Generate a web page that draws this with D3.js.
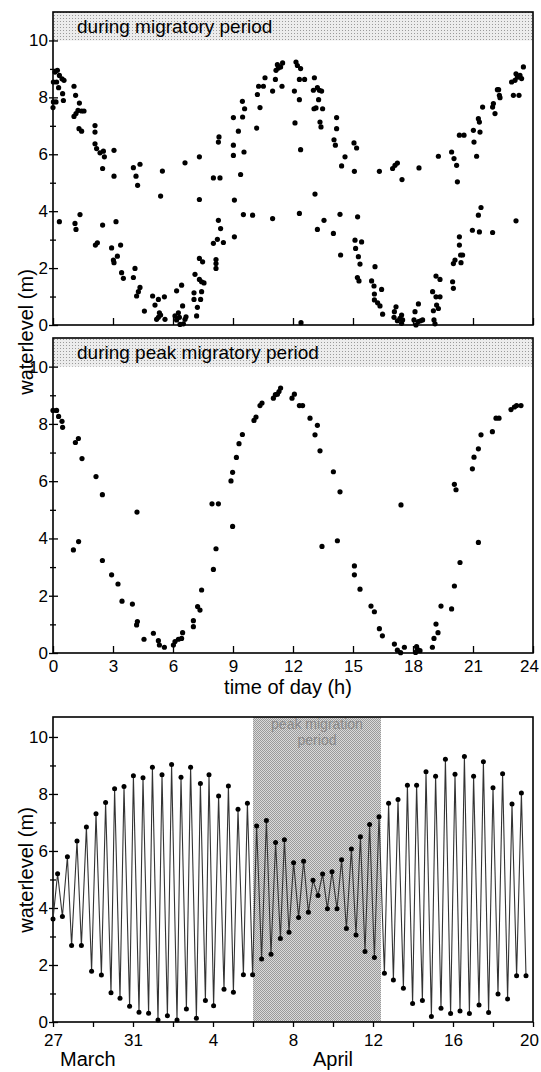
<!DOCTYPE html>
<html>
<head>
<meta charset="utf-8">
<script src="https://cdn.jsdelivr.net/npm/d3@7"></script>
<style>
  body { margin: 0; background: #fff; }
  svg { display: block; font-family: "Liberation Sans", Arial, Helvetica, sans-serif; }
</style>
</head>
<body>
<div id="chart"></div>
<script>
// ---- data ----

// panel 1: water level at the time of each observation, whole migratory period
// [hour of day, water level (m)]
const migratoryPeriod = [
  // high-water side
  [0.00,7.64],[0.02,7.84],[0.02,8.54],[0.10,8.89],[0.22,8.95],[0.18,8.54],[0.15,7.84],[0.32,8.77],[0.28,8.34],
  [0.45,8.65],[0.48,8.13],[0.52,7.89],[0.55,8.60],[1.05,8.39],[1.13,8.07],[1.05,7.33],[1.15,7.43],[1.25,7.54],
  [1.32,7.80],[1.43,7.52],[1.55,7.52],[1.30,6.90],[1.43,6.81],[2.10,7.01],[2.10,6.78],[2.10,6.37],[2.18,6.20],
  [2.35,6.05],[2.52,6.11],[2.57,5.91],[2.48,5.50],[3.05,6.14],[3.05,5.23],[4.02,5.53],[4.15,5.23],[4.23,4.91],
  [4.35,5.65],[5.38,4.53],[5.47,5.41],[6.60,5.70],[7.32,5.91],[7.32,4.41],[8.02,5.17],[8.35,5.17],[8.27,6.43],
  [8.30,6.61],[9.02,7.29],[9.02,6.32],[9.02,5.96],[9.07,4.39],[9.27,6.81],[9.38,5.29],[9.47,7.86],[9.48,7.31],
  [9.58,7.60],[9.55,6.08],[10.18,6.92],[10.22,8.10],[10.35,7.64],[10.28,8.39],[10.52,8.39],[10.60,8.69],
  [10.98,8.22],[11.12,8.63],[11.15,8.95],[11.22,9.15],[11.27,9.03],[11.38,9.07],[11.48,9.21],[11.45,8.39],
  [12.10,7.10],[12.15,9.24],[12.22,9.12],[12.38,9.01],[12.32,8.63],[12.58,8.63],[12.07,8.22],[12.32,7.92],
  [12.38,6.16],[13.07,8.69],[13.02,8.25],[13.22,8.34],[13.32,8.25],[13.43,8.22],[13.28,7.92],[13.05,7.60],
  [13.15,7.63],[13.48,7.60],[13.35,7.13],[13.40,6.96],[13.10,4.60],[14.18,7.29],[14.18,6.90],[14.05,6.51],
  [14.12,6.32],[14.60,5.91],[14.43,5.59],[15.05,6.40],[15.18,6.22],[15.07,5.40],[16.32,5.40],[16.98,5.50],
  [17.10,5.61],[17.22,5.69],[17.45,5.11],[18.30,5.52],[19.27,5.93],[19.93,6.08],[20.05,5.85],[20.18,5.61],
  [20.22,5.03],[20.32,6.67],[20.55,6.67],[21.02,6.84],[21.05,6.43],[21.18,5.93],[21.35,6.78],[21.27,7.25],
  [21.32,7.13],[21.48,7.66],[21.98,7.66],[22.02,7.78],[22.10,7.43],[22.22,8.27],[22.32,8.07],[22.35,7.99],
  [22.28,8.27],[23.02,8.07],[23.30,8.07],[22.93,8.54],[23.10,8.60],[23.15,8.83],[23.22,8.71],[23.35,8.77],
  [23.43,8.66],[23.52,9.07],
  // low-water side
  [0.32,3.63],[1.10,3.57],[1.15,3.36],[1.35,3.88],[2.12,2.81],[2.22,2.89],[2.48,3.51],[2.93,2.71],[3.15,3.63],
  [3.02,2.28],[3.05,2.19],[3.22,2.42],[3.38,2.81],[3.43,1.84],[3.52,1.64],[4.02,1.67],[4.10,1.99],[4.18,1.02],
  [4.27,1.17],[4.35,1.32],[4.57,0.49],[4.98,1.02],[5.10,0.70],[5.27,0.90],[5.32,0.43],[5.27,0.27],[5.38,0.35],
  [5.18,0.20],[5.57,0.99],[5.60,0.20],[6.10,0.32],[6.18,1.20],[6.18,0.18],[6.27,0.43],[6.32,0.27],[6.35,0.02],
  [6.43,1.40],[6.48,0.67],[6.60,0.20],[6.65,0.29],[6.52,0.04],[7.05,1.13],[7.05,0.90],[7.18,0.32],[7.22,0.62],
  [7.38,0.90],[7.43,1.17],[7.10,1.78],[7.32,1.60],[7.43,1.52],[7.55,1.48],[7.32,2.34],[7.48,2.22],[8.02,2.87],
  [8.15,2.30],[8.15,2.16],[8.15,1.99],[8.27,3.68],[8.22,3.01],[8.38,3.39],[8.52,2.90],[9.07,3.10],[9.52,3.88],
  [9.98,3.86],[10.98,3.74],[12.32,3.92],[12.40,0.08],[13.22,3.36],[13.55,3.68],[14.02,3.22],[14.35,3.89],
  [14.38,2.46],[15.23,3.80],[15.10,2.98],[15.13,2.69],[15.43,2.92],[15.27,2.40],[15.35,2.14],[15.22,1.67],
  [15.30,1.55],[16.10,2.05],[15.93,1.55],[16.05,1.37],[16.07,1.09],[16.07,0.88],[16.23,0.78],[16.35,0.67],
  [16.43,1.25],[16.48,0.38],[17.07,0.47],[17.15,0.64],[17.05,0.27],[17.22,0.15],[17.35,0.23],[17.43,0.35],
  [17.43,0.06],[17.48,0.18],[18.05,0.18],[18.10,0.47],[18.15,0.00],[18.27,0.74],[18.27,0.12],[18.38,0.15],
  [18.48,0.18],[18.98,1.17],[19.02,0.50],[19.05,0.18],[19.10,0.04],[19.18,0.70],[19.27,0.58],[19.15,0.99],
  [19.35,0.99],[19.15,1.72],[19.35,1.60],[19.98,1.52],[20.02,1.29],[20.02,2.16],[20.10,2.28],[20.32,2.81],
  [20.32,3.10],[20.38,2.46],[20.48,2.46],[20.40,2.19],[20.97,3.33],[21.27,3.86],[21.32,3.27],[21.40,4.13],
  [21.98,3.25],[23.15,3.66]
];

// panel 2: same, peak migratory period only
const peakPeriod = [
  [0.00,8.47],[0.18,8.47],[0.28,8.26],[0.45,8.09],[0.48,7.88],[1.02,3.60],[1.12,7.35],[1.27,7.49],[1.28,3.89],
  [1.45,6.79],[2.15,6.16],[2.47,5.53],[2.47,3.23],[2.93,2.73],[3.25,2.41],[3.45,1.81],[3.97,1.71],[4.18,0.98],
  [4.22,1.10],[4.20,4.92],[4.55,0.48],[5.02,0.69],[5.27,0.43],[5.32,0.28],[5.57,0.20],[6.02,0.28],[6.10,0.40],
  [6.27,0.48],[6.43,0.51],[6.48,0.71],[7.02,1.13],[7.02,0.92],[7.23,1.62],[7.35,1.50],[7.43,2.20],[7.95,5.21],
  [8.02,2.92],[8.15,3.64],[8.27,5.21],[8.90,6.01],[8.98,6.31],[8.98,4.42],[9.17,6.83],[9.30,7.31],[9.47,7.63],
  [10.05,8.12],[10.15,8.24],[10.35,8.64],[10.45,8.73],[11.02,8.90],[11.12,9.02],[11.22,9.04],[11.30,9.13],
  [11.38,9.25],[11.95,8.90],[12.07,9.04],[12.32,8.64],[12.48,8.64],[12.85,8.20],[13.10,7.62],[13.22,7.95],
  [13.35,7.06],[13.45,3.72],[14.02,6.33],[14.22,3.92],[14.35,5.63],[15.07,3.04],[15.07,2.73],[15.35,2.23],
  [15.90,1.64],[16.07,1.44],[16.32,0.85],[16.47,0.60],[17.07,0.31],[17.22,0.10],[17.38,0.01],[17.40,5.17],
  [17.57,0.20],[18.13,0.02],[18.18,0.22],[18.22,0.13],[18.35,0.08],[18.97,0.20],[19.05,0.51],[19.15,1.01],
  [19.25,0.71],[19.40,1.64],[19.93,1.54],[20.07,2.34],[20.07,5.89],[20.15,5.70],[20.35,3.16],[20.97,6.43],
  [21.05,6.84],[21.27,7.13],[21.27,3.86],[21.40,7.62],[21.97,7.73],[22.15,8.20],[22.30,8.20],[22.90,8.50],
  [23.07,8.59],[23.18,8.64],[23.40,8.64]
];

// panel 3: successive high and low waters, days after 27 March 00:00
const tideDays = [
  0.00,0.23,0.47,0.72,0.93,1.20,1.42,1.67,1.93,2.15,2.42,2.63,2.90,3.08,3.35,3.55,3.83,4.02,4.30,4.50,
  4.78,4.97,5.25,5.45,5.72,5.93,6.20,6.40,6.67,6.88,7.17,7.37,7.62,7.80,8.03,8.28,8.55,8.77,9.02,9.25,
  9.52,9.72,9.98,10.18,10.43,10.67,10.90,11.13,11.37,11.57,11.80,12.03,12.28,12.53,12.77,13.00,13.25,
  13.48,13.72,13.95,14.20,14.43,14.67,14.92,15.15,15.37,15.60,15.83,16.07,16.30,16.57,16.78,17.02,17.25,
  17.52,17.72,17.98,18.18,18.47,18.65,18.92,19.13,19.40,19.62,19.88,20.10,20.35,20.57,20.82,21.03,21.30,
  21.52,21.78,22.00,22.25,22.48,22.73,22.95,23.18,23.42,23.65
];
const tideLevels = [
  3.61,5.20,3.70,5.80,2.68,6.35,2.68,6.84,1.78,7.31,1.65,7.70,1.03,8.18,0.83,8.26,0.55,8.64,0.34,8.57,
  0.31,8.94,0.07,8.67,0.22,9.03,0.07,8.59,0.46,8.94,0.13,8.37,0.75,8.67,0.57,7.93,1.15,8.28,1.04,7.46,
  1.66,7.67,1.66,6.88,2.21,7.07,2.38,6.30,2.93,6.39,3.15,5.59,3.67,5.64,3.85,4.97,4.44,
  5.19,3.97,5.27,3.97,5.69,3.28,6.07,3.05,6.50,2.47,6.93,2.26,7.20,1.71,7.67,1.47,7.81,
  1.18,8.31,0.65,8.31,0.75,8.78,0.19,8.62,0.48,9.22,0.30,8.69,0.39,9.31,0.30,8.62,0.60,
  9.13,0.33,8.22,0.98,8.71,0.81,7.65,1.62,8.03,1.62
];
const peakMigration = [10.0, 16.4]; // shaded span, days after 27 March

const yMajor = [0, 2, 4, 6, 8, 10];
const yMinor = [1, 3, 5, 7, 9];
const hourTicks = [0, 3, 6, 9, 12, 15, 18, 21, 24];

// ---- layout ----
var width = 541, height = 1072;
var left = 53, right = 533;
var FONT = '"Liberation Sans", Arial, Helvetica, sans-serif';

var svg = d3.select("#chart").append("svg")
  .attr("width", width)
  .attr("height", height);

// dithered greys like the printed screen tones
var defs = svg.append("defs");
var light = defs.append("pattern").attr("id", "lightTone")
  .attr("width", 3).attr("height", 3).attr("patternUnits", "userSpaceOnUse");
light.append("rect").attr("width", 3).attr("height", 3).attr("fill", "#ececec");
light.append("rect").attr("width", 1).attr("height", 1).attr("fill", "#9a9a9a");
var dark = defs.append("pattern").attr("id", "darkTone")
  .attr("width", 2).attr("height", 2).attr("patternUnits", "userSpaceOnUse");
dark.append("rect").attr("width", 2).attr("height", 2).attr("fill", "#dadada");
dark.append("rect").attr("width", 1).attr("height", 1).attr("fill", "#9a9a9a");
dark.append("rect").attr("x", 1).attr("y", 1).attr("width", 1).attr("height", 1).attr("fill", "#9a9a9a");

function styleAxis(g) {
  g.select(".domain").remove();
  g.selectAll("line").attr("stroke", "#000").attr("stroke-width", 1.3);
  g.selectAll("text").attr("fill", "#000").style("font-family", FONT).style("font-size", "17px");
}

// keep the right-most tick label inside the page
function pullLastLabel(g) {
  g.selectAll(".tick:last-of-type text").attr("dx", -4);
}

// y axis with ticks crossing the frame, minor ticks at odd metres
function drawYAxis(y) {
  svg.append("g").attr("transform", `translate(${left},0)`)
    .call(d3.axisLeft(y).tickValues(yMajor).tickSize(4).tickPadding(1))
    .call(styleAxis);
  svg.append("g").attr("transform", `translate(${left},0)`)
    .call(d3.axisLeft(y).tickValues(yMajor).tickSize(-5).tickFormat(""))
    .call(styleAxis);
  svg.append("g").attr("transform", `translate(${left},0)`)
    .call(d3.axisLeft(y).tickValues(yMinor).tickSize(3).tickFormat(""))
    .call(styleAxis);
  svg.append("g").attr("transform", `translate(${left},0)`)
    .call(d3.axisLeft(y).tickValues(yMinor).tickSize(-3).tickFormat(""))
    .call(styleAxis);
}

function frame(top, bottom) {
  svg.append("rect")
    .attr("x", left).attr("y", top)
    .attr("width", right - left).attr("height", bottom - top)
    .attr("fill", "none").attr("stroke", "#000").attr("stroke-width", 1.6);
}

// ---- panels 1 and 2: time of day scatter ----
var xHour = d3.scaleLinear().domain([0, 24]).range([left, right]);

function scatterPanel(top, bottom, data, title, showLabels) {
  var y = d3.scaleLinear().domain([0, 11]).range([bottom, top]);

  // title band above 10 m
  svg.append("rect")
    .attr("x", left).attr("y", y(11))
    .attr("width", right - left).attr("height", y(10) - y(11))
    .attr("fill", "url(#lightTone)");
  svg.append("text")
    .attr("x", xHour(1.2)).attr("y", top + 21)
    .style("font-size", "19px")
    .text(title);

  svg.append("g").attr("transform", `translate(0,${bottom})`)
    .call(d3.axisBottom(xHour).tickValues(hourTicks).tickSize(-7).tickPadding(7)
      .tickFormat(showLabels ? d3.format("d") : ""))
    .call(styleAxis)
    .call(pullLastLabel);

  drawYAxis(y);
  frame(top, bottom);

  svg.append("g").selectAll("circle")
    .data(data)
    .enter()
    .append("circle")
    .attr("cx", function (d) { return xHour(d[0]); })
    .attr("cy", function (d) { return y(d[1]); })
    .attr("r", 2.6)
    .attr("fill", "#000");
}

scatterPanel(12, 325, migratoryPeriod, "during migratory period", false);
scatterPanel(338, 653, peakPeriod, "during peak migratory period", true);

svg.append("text")
  .attr("x", 288).attr("y", 694)
  .attr("text-anchor", "middle")
  .style("font-size", "20px")
  .text("time of day (h)");

svg.append("text")
  .attr("transform", "translate(33,332) rotate(-90)")
  .attr("text-anchor", "middle")
  .style("font-size", "20px")
  .text("waterlevel (m)");

// ---- panel 3: tide series ----
var top3 = 717, bottom3 = 1022;
var start = new Date(Date.UTC(1990, 2, 27));
var end = d3.utcDay.offset(start, 24);
var dayToDate = function (d) { return new Date(start.getTime() + d * 864e5); };

var xDate = d3.scaleUtc().domain([start, end]).range([left, right]);
var yTide = d3.scaleLinear().domain([0, 10.7]).range([bottom3, top3]);

var tides = tideDays.map(function (d, i) { return { date: dayToDate(d), level: tideLevels[i] }; });

// peak migration period
var peakX0 = xDate(dayToDate(peakMigration[0]));
var peakX1 = xDate(dayToDate(peakMigration[1]));
svg.append("rect")
  .attr("x", peakX0)
  .attr("y", top3)
  .attr("width", peakX1 - peakX0)
  .attr("height", bottom3 - top3)
  .attr("fill", "url(#darkTone)");

var midPeak = (peakX0 + peakX1) / 2;
svg.append("text")
  .attr("x", midPeak).attr("y", 729)
  .attr("text-anchor", "middle")
  .attr("fill", "#8a8a8a")
  .style("font-size", "14px")
  .text("peak migration");
svg.append("text")
  .attr("x", midPeak).attr("y", 745)
  .attr("text-anchor", "middle")
  .attr("fill", "#8a8a8a")
  .style("font-size", "14px")
  .text("period");

var dayTicks = d3.utcDay.range(start, d3.utcDay.offset(end, 1), 2);
svg.append("g").attr("transform", `translate(0,${bottom3})`)
  .call(d3.axisBottom(xDate).tickValues(dayTicks).tickSize(5).tickPadding(7)
    .tickFormat(function (d, i) { return i % 2 === 0 ? d3.utcFormat("%-d")(d) : ""; }))
  .call(styleAxis)
  .call(pullLastLabel);

drawYAxis(yTide);
frame(top3, bottom3);

svg.append("path")
  .datum(tides)
  .attr("fill", "none")
  .attr("stroke", "#333")
  .attr("stroke-width", 1.1)
  .attr("d", d3.line()
    .x(function (d) { return xDate(d.date); })
    .y(function (d) { return yTide(d.level); }));

svg.append("g").selectAll("circle")
  .data(tides)
  .enter()
  .append("circle")
  .attr("cx", function (d) { return xDate(d.date); })
  .attr("cy", function (d) { return yTide(d.level); })
  .attr("r", 2.5)
  .attr("fill", "#000");

svg.append("text")
  .attr("x", xDate(start) + 7).attr("y", 1066)
  .style("font-size", "20px")
  .text("March");
svg.append("text")
  .attr("x", xDate(dayToDate(14))).attr("y", 1066)
  .attr("text-anchor", "middle")
  .style("font-size", "20px")
  .text("April");

svg.append("text")
  .attr("transform", "translate(33,870) rotate(-90)")
  .attr("text-anchor", "middle")
  .style("font-size", "20px")
  .text("waterlevel (m)");
</script>
</body>
</html>
